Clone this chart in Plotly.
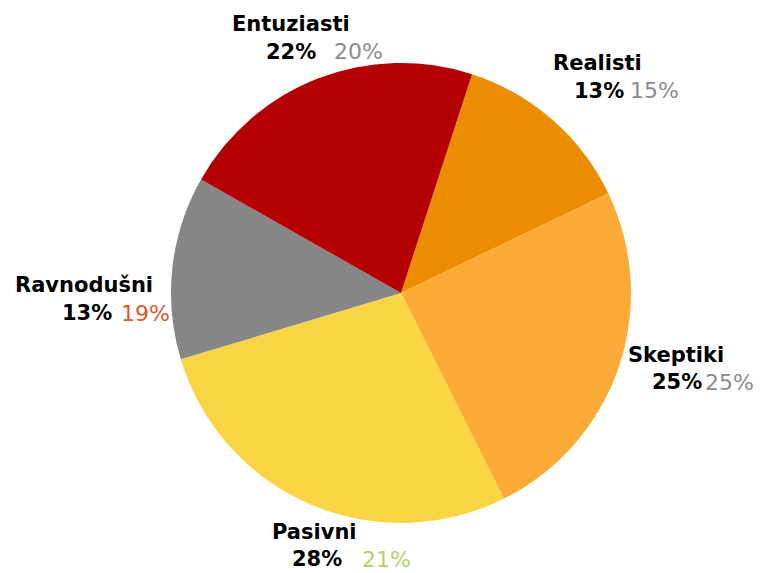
import plotly.graph_objects as go

W, H = 762, 573
OFF = 8  # page body margin in the browser
FW, FH = W - OFF, H - OFF

# Data (clockwise order starting just right of 12 o'clock)
categories = ["Realisti", "Skeptiki", "Pasivni", "Ravnodušni", "Entuziasti"]
values = [13, 25, 28, 13, 22]
compare_values = [15, 25, 21, 19, 20]

slice_colors = ["#EC8C00", "#FBAA37", "#F9D545", "#868686", "#B40000"]
compare_colors = ["#8C8C8C", "#8C8C8C", "#B5D16A", "#E0572A", "#8C8C8C"]

# Label layout in page pixels: (name_left, name_y, pct_left, cmp_left, pct_y)
label_layout = [
    (553, 63, 574, 630, 91),
    (628, 355, 652, 705, 382),
    (272, 532, 292, 362, 559),
    (15, 285, 62, 121, 313),
    (232, 24, 266, 334, 52),
]

cx, cy, r = 401, 293, 230


def px_x(x):
    return (x - OFF) / FW


def px_y(y):
    return 1 - (y - OFF) / FH


fig = go.Figure(go.Pie(
    labels=categories,
    values=values,
    sort=False,
    direction="clockwise",
    rotation=18,
    marker=dict(colors=slice_colors, line=dict(width=0)),
    textinfo="none",
    hoverinfo="label+value",
    showlegend=False,
    domain=dict(x=[px_x(cx - r), px_x(cx + r)], y=[px_y(cy + r), px_y(cy - r)]),
))

FONT = "DejaVu Sans"
annotations = []
for cat, v, cv, cc, (nx, ny, px, qx, py) in zip(categories, values, compare_values, compare_colors, label_layout):
    annotations.append(dict(
        text=f"<b>{cat}</b>", x=px_x(nx - 2), y=px_y(ny), xref="paper", yref="paper",
        xanchor="left", yanchor="middle", showarrow=False,
        font=dict(family=FONT, size=21, color="#000000")))
    annotations.append(dict(
        text=f"<b>{v}%</b>", x=px_x(px - 2), y=px_y(py), xref="paper", yref="paper",
        xanchor="left", yanchor="middle", showarrow=False,
        font=dict(family=FONT, size=21, color="#000000")))
    annotations.append(dict(
        text=f"{cv}%", x=px_x(qx - 2), y=px_y(py), xref="paper", yref="paper",
        xanchor="left", yanchor="middle", showarrow=False,
        font=dict(family=FONT, size=22, color=cc)))

fig.update_layout(
    width=FW, height=FH,
    margin=dict(l=0, r=0, t=0, b=0),
    paper_bgcolor="white",
    plot_bgcolor="white",
    annotations=annotations,
)

fig.write_html("out.html")
